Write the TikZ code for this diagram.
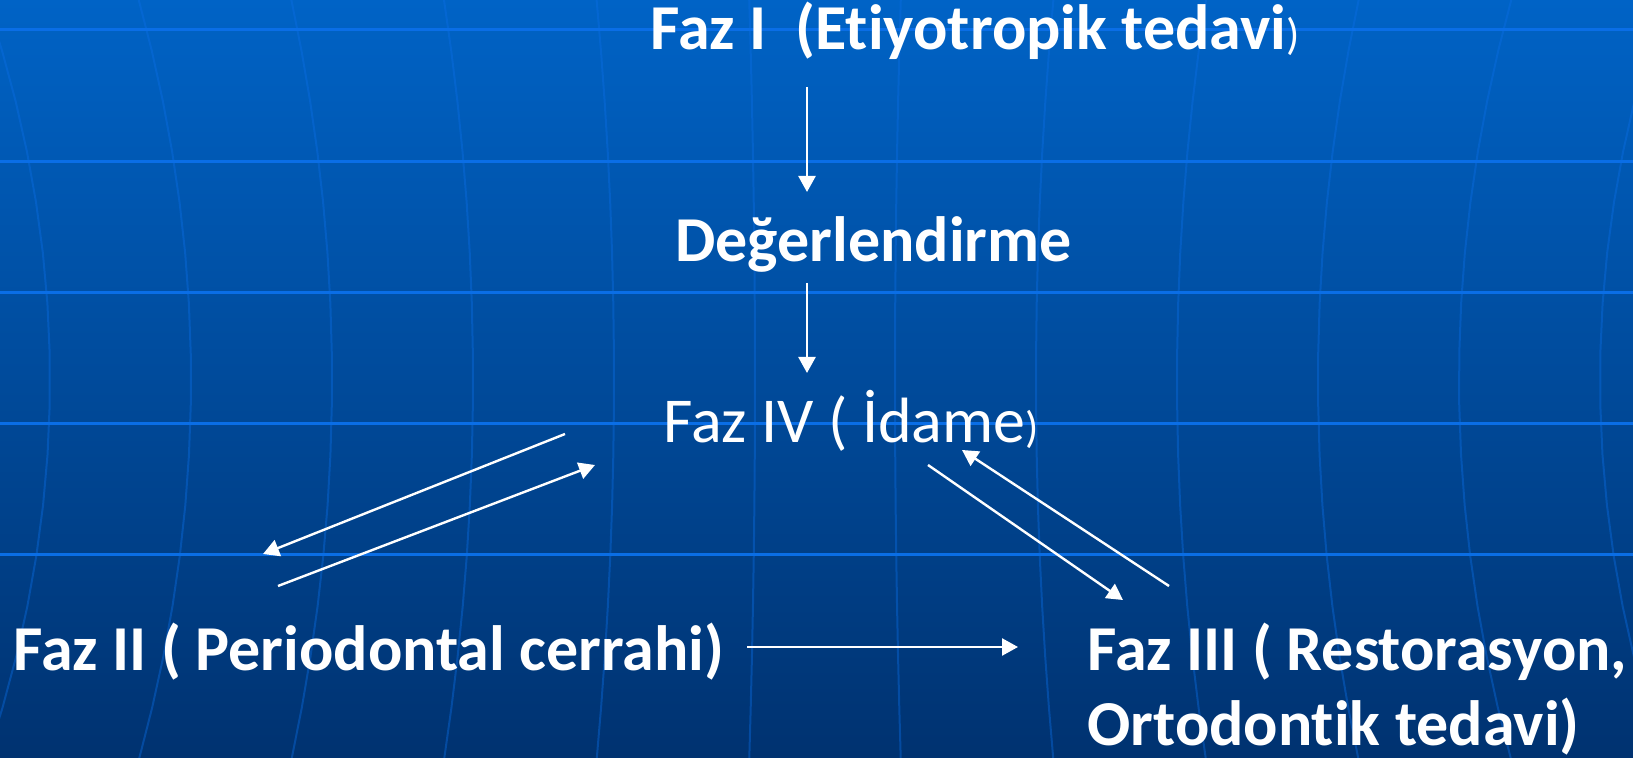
\documentclass[tikz,border=0pt]{standalone}
\usepackage{fontspec}
\setmainfont[Ligatures={NoCommon}]{Carlito}
\usetikzlibrary{arrows.meta}

\definecolor{bgtop}{RGB}{0,99,198}
\definecolor{bgbot}{RGB}{0,50,112}
\definecolor{gridline}{RGB}{10,110,230}

\newcommand{\smallparen}{{\mdseries\fontsize{22}{22}\selectfont )}}

\begin{document}
\begin{tikzpicture}[x=0.5pt,y=-0.5pt,
    lbl/.style={text=white,inner sep=0pt,anchor=base west,font=\bfseries\fontsize{32}{37.5}\selectfont},
    arr/.style={white,line width=1.2pt,-{Triangle[length=8pt,width=8.5pt]}}]
    % background
    \useasboundingbox (0,0) rectangle (1633,758);
    \shade[top color=bgtop,bottom color=bgbot] (0,0) rectangle (1633,758);
    \foreach \m in {-775,-634,-493,-352,-211,-70,70,211,352,493,634,775}
        \draw[gridline,opacity=0.4,line width=1pt] plot[domain=0:758,samples=16,variable=\t] ({825+\m*(1+0.0057*((\t-380)/100)^2)},\t);
    \foreach \y in {30,162,293,424,555}
        \draw[gridline,line width=1.5pt] (0,\y) -- (1633,\y);

    \node[lbl] (faz1) at (650,50) {Faz I\ \ (Etiyotropik tedavi\smallparen};
    \node[lbl] (deger) at (675,262) {Değerlendirme};
    \node[lbl,font=\mdseries\fontsize{32}{37.5}\selectfont] (faz4) at (663,443) {Faz IV ( İdame\smallparen};
    \node[lbl] (faz2) at (13,670) {Faz II ( Periodontal cerrahi)};
    \node[lbl,align=left] (faz3) at (1087,745) {Faz III ( Restorasyon,\\Ortodontik tedavi)};

    % arrow ends
    \coordinate (f1out) at (807,87);
    \coordinate (dgin) at (807,192);
    \coordinate (dgout) at (807,283);
    \coordinate (f4in) at (807,373);
    \coordinate (f4to2) at (565,434);
    \coordinate (f2in) at (263,554);
    \coordinate (f2to4) at (278,586);
    \coordinate (f4from2) at (595,465);
    \coordinate (f4to3) at (928,465);
    \coordinate (f3in) at (1123,600);
    \coordinate (f3to4) at (1169,586);
    \coordinate (f4from3) at (962,450);
    \coordinate (f2to3) at (747,647);
    \coordinate (f3from2) at (1018,647);

    \draw[arr] (f1out) -- (dgin);
    \draw[arr] (dgout) -- (f4in);
    \draw[arr] (f4to2) -- (f2in);
    \draw[arr] (f2to4) -- (f4from2);
    \draw[arr] (f4to3) -- (f3in);
    \draw[arr] (f3to4) -- (f4from3);
    \draw[arr] (f2to3) -- (f3from2);
\end{tikzpicture}
\end{document}
